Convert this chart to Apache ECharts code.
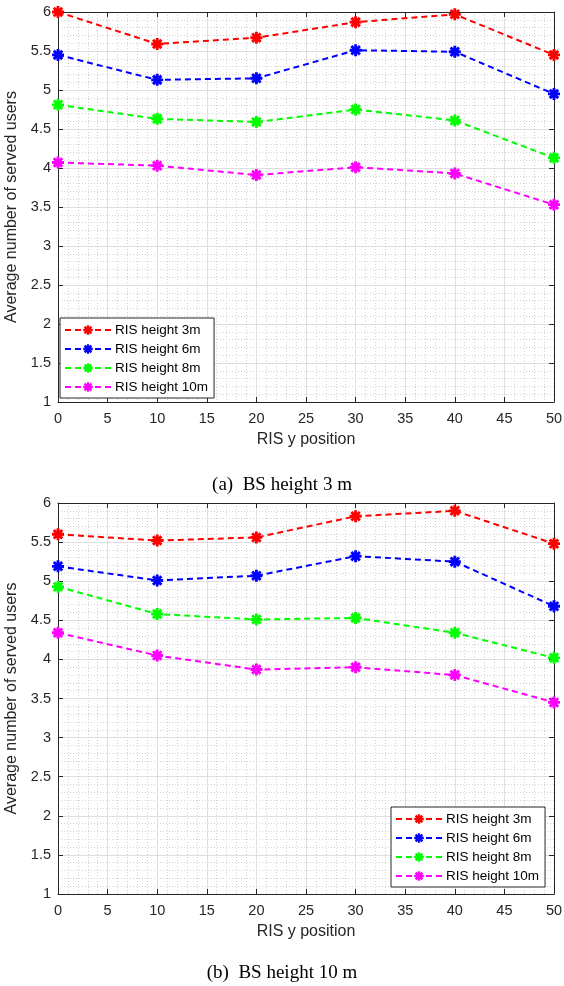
<!DOCTYPE html>
<html>
<head>
<meta charset="utf-8">
<title>Average number of served users vs RIS y position</title>
<script src="https://cdn.jsdelivr.net/npm/echarts@6/dist/echarts.min.js"></script>
<style>
  html, body { margin: 0; padding: 0; background: #ffffff; }
  #chart { width: 564px; height: 986px; }
</style>
</head>
<body>
<div id="chart"></div>
<script>
// RIS y positions (x axis)
const risYPositions = [0, 10, 20, 30, 40, 50];
const seriesNames = ['RIS height 3m', 'RIS height 6m', 'RIS height 8m', 'RIS height 10m'];
const seriesColors = ['#ff0000', '#0000ff', '#00ff00', '#ff00ff'];

// Panel (a): BS height 3 m
const bs3Ris3 = [6.00, 5.59, 5.67, 5.87, 5.97, 5.45];
const bs3Ris6 = [5.45, 5.13, 5.15, 5.51, 5.49, 4.95];
const bs3Ris8 = [4.81, 4.63, 4.59, 4.75, 4.61, 4.13];
const bs3Ris10 = [4.07, 4.03, 3.91, 4.01, 3.93, 3.53];

// Panel (b): BS height 10 m
const bs10Ris3 = [5.60, 5.52, 5.56, 5.83, 5.90, 5.48];
const bs10Ris6 = [5.19, 5.01, 5.07, 5.32, 5.25, 4.68];
const bs10Ris8 = [4.93, 4.58, 4.51, 4.53, 4.34, 4.02];
const bs10Ris10 = [4.34, 4.05, 3.87, 3.90, 3.80, 3.45];

// Axis ranges and ticks
const xTicks = { min: 0, max: 50, interval: 5 };
const yTicks = { min: 1, max: 6, interval: 0.5 };

const panelCaptions = ['(a)  BS height 3 m', '(b)  BS height 10 m'];
const xAxisTitle = 'RIS y position';
const yAxisTitle = 'Average number of served users';

const SANS = '"Liberation Sans", Arial, Helvetica, sans-serif';
const SERIF = '"Liberation Serif", "Times New Roman", serif';
const AXIS_COLOR = '#262626';

// asterisk-like marker built from four bars
const STAR = 'path://M-1.3,-5.4L1.3,-5.4L1.3,5.4L-1.3,5.4Z' +
  'M-5.4,-1.3L5.4,-1.3L5.4,1.3L-5.4,1.3Z' +
  'M-2.9,-4.74L4.74,2.9L2.9,4.74L-4.74,-2.9Z' +
  'M2.9,-4.74L4.74,-2.9L-2.9,4.74L-4.74,2.9Z';

const panels = [
  { top: 12, height: 390, data: [bs3Ris3, bs3Ris6, bs3Ris8, bs3Ris10] },
  { top: 503, height: 391, data: [bs10Ris3, bs10Ris6, bs10Ris8, bs10Ris10] }
];

const grids = [], xAxes = [], yAxes = [], series = [];

panels.forEach((p, i) => {
  grids.push({
    left: 58, right: 10, top: p.top, height: p.height,
    containLabel: false, outerBoundsMode: 'none',
    show: true, backgroundColor: '#ffffff', borderWidth: 0
  });
  // main bottom x axis with grid lines
  xAxes.push({
    type: 'value', gridIndex: i, position: 'bottom',
    min: xTicks.min, max: xTicks.max, interval: xTicks.interval,
    name: xAxisTitle, nameLocation: 'middle', nameGap: 30,
    nameTextStyle: { fontFamily: SANS, fontSize: 16, color: AXIS_COLOR },
    axisLine: { show: true, onZero: false, lineStyle: { color: AXIS_COLOR, width: 1 } },
    axisTick: { show: true, inside: true, length: 5, lineStyle: { color: AXIS_COLOR } },
    axisLabel: { fontFamily: SANS, fontSize: 14.5, color: AXIS_COLOR, margin: 9 },
    splitLine: { show: true, lineStyle: { color: '#dfdfdf', width: 1 } },
    minorTick: { show: false, splitNumber: 5 },
    minorSplitLine: { show: true, lineStyle: { color: '#d2d2d2', width: 1, type: [1, 2] } }
  });
  // top edge of the box
  xAxes.push({
    type: 'value', gridIndex: i, position: 'top',
    min: xTicks.min, max: xTicks.max, interval: xTicks.interval,
    axisLine: { show: true, onZero: false, lineStyle: { color: AXIS_COLOR, width: 1 } },
    axisTick: { show: true, inside: true, length: 5, lineStyle: { color: AXIS_COLOR } },
    axisLabel: { show: false },
    splitLine: { show: false }
  });
  yAxes.push({
    type: 'value', gridIndex: i, position: 'left',
    min: yTicks.min, max: yTicks.max, interval: yTicks.interval,
    name: yAxisTitle, nameLocation: 'middle', nameGap: 32,
    nameTextStyle: { fontFamily: SANS, fontSize: 16, color: AXIS_COLOR },
    axisLine: { show: true, onZero: false, lineStyle: { color: AXIS_COLOR, width: 1 } },
    axisTick: { show: true, inside: true, length: 5, lineStyle: { color: AXIS_COLOR } },
    axisLabel: { fontFamily: SANS, fontSize: 14.5, color: AXIS_COLOR, margin: 7 },
    splitLine: { show: true, lineStyle: { color: '#dfdfdf', width: 1 } },
    minorTick: { show: false, splitNumber: 5 },
    minorSplitLine: { show: true, lineStyle: { color: '#d2d2d2', width: 1, type: [1, 2] } }
  });
  // right edge of the box
  yAxes.push({
    type: 'value', gridIndex: i, position: 'right',
    min: yTicks.min, max: yTicks.max, interval: yTicks.interval,
    axisLine: { show: true, onZero: false, lineStyle: { color: AXIS_COLOR, width: 1 } },
    axisTick: { show: true, inside: true, length: 5, lineStyle: { color: AXIS_COLOR } },
    axisLabel: { show: false },
    splitLine: { show: false }
  });

  p.data.forEach((values, k) => {
    series.push({
      name: seriesNames[k],
      type: 'line',
      xAxisIndex: i * 2,
      yAxisIndex: i * 2,
      data: risYPositions.map((x, j) => [x, values[j]]),
      symbol: STAR,
      symbolSize: 12,
      showAllSymbol: true,
      clip: false,
      z: 5,
      color: seriesColors[k],
      itemStyle: { color: seriesColors[k] },
      lineStyle: { color: seriesColors[k], width: 2, type: [6, 4] },
      emphasis: { disabled: true },
      animation: false
    });
  });
});

const legendBase = {
  orient: 'vertical',
  data: seriesNames,
  backgroundColor: '#ffffff',
  borderColor: AXIS_COLOR,
  borderWidth: 1,
  borderRadius: 0,
  padding: [5, 6, 4, 4],
  itemWidth: 46,
  itemHeight: 12,
  itemGap: 5,
  selectedMode: false,
  textStyle: { fontFamily: SANS, fontSize: 13.5, color: '#000000', padding: [0, 0, 0, -1] }
};

const option = {
  animation: false,
  backgroundColor: '#ffffff',
  title: [
    { text: panelCaptions[0], left: 'center', top: 471,
      textStyle: { fontFamily: SERIF, fontSize: 19, fontWeight: 'normal', color: '#000000' } },
    { text: panelCaptions[1], left: 'center', top: 959,
      textStyle: { fontFamily: SERIF, fontSize: 19, fontWeight: 'normal', color: '#000000' } }
  ],
  legend: [
    Object.assign({}, legendBase, { left: 60, top: 318 }),
    Object.assign({}, legendBase, { left: 391, top: 807 })
  ],
  grid: grids,
  xAxis: xAxes,
  yAxis: yAxes,
  series: series
};

const chart = echarts.init(document.getElementById('chart'), null, { renderer: 'canvas' });
chart.setOption(option);
</script>
</body>
</html>
